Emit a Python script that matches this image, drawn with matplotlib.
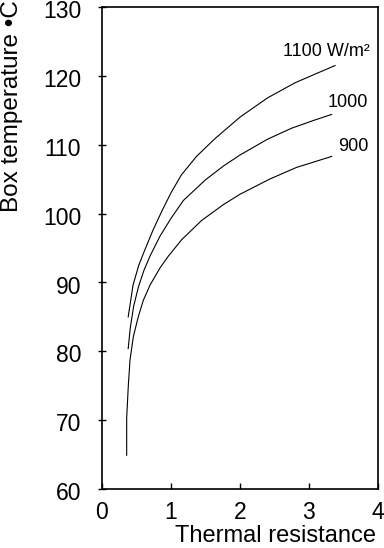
import numpy as np
import matplotlib
matplotlib.use('Agg')
import matplotlib.pyplot as plt
from matplotlib.transforms import ScaledTranslation

plt.rcParams['font.family'] = ['Liberation Sans', 'DejaVu Sans']

# thermal resistance / box temperature for three irradiance levels
r_900 = [0.358, 0.358, 0.381, 0.406, 0.454, 0.526, 0.599, 0.696, 0.841, 0.961,
         1.155, 1.445, 1.76, 2.0, 2.43, 2.82, 3.33]
t_900 = [64.9, 70.3, 74.9, 78.7, 82.1, 85.0, 87.4, 89.6, 92.1, 93.8,
         96.2, 99.0, 101.3, 102.8, 105.0, 106.7, 108.3]

r_1000 = [0.38, 0.41, 0.46, 0.53, 0.61, 0.70, 0.84, 1.0, 1.18, 1.5,
          1.76, 2.0, 2.4, 2.75, 3.06, 3.33]
t_1000 = [80.4, 83.4, 86.6, 89.4, 91.8, 93.9, 96.7, 99.3, 101.9, 104.9,
          106.9, 108.5, 110.8, 112.4, 113.5, 114.4]

r_1100 = [0.38, 0.45, 0.53, 0.62, 0.74, 0.87, 1.0, 1.15, 1.37, 1.64,
          2.0, 2.4, 2.8, 3.1, 3.38]
t_1100 = [85.0, 89.6, 92.4, 94.7, 97.6, 100.4, 103.0, 105.6, 108.3, 110.9,
          114.0, 116.8, 119.0, 120.3, 121.5]

labels = ['900', '1000', '1100 W/m²']

fig = plt.figure(figsize=(3.84, 5.48), dpi=100)
ax = fig.add_axes([0.2656, 0.1077, 0.7184, 0.8795])

for r, t in [(r_900, t_900), (r_1000, t_1000), (r_1100, t_1100)]:
    ax.plot(r, t, color='black', lw=0.8)

ax.text(3.86, 109.7, labels[0], ha='right', va='center', fontsize=13)
ax.text(3.86, 116.2, labels[1], ha='right', va='center', fontsize=13)
ax.text(2.62, 123.6, labels[2], ha='left', va='center', fontsize=13)

ax.set_xlim(0, 4)
ax.set_ylim(60, 130)
ax.set_xticks([0, 1, 2, 3, 4])
ax.set_yticks(np.arange(60, 131, 10))
ax.tick_params(axis='y', direction='inout', length=6, width=1, labelsize=16.5, pad=12)
ax.tick_params(axis='x', direction='in', length=4, width=1, labelsize=16.5, pad=9)
# labels sit a touch below their ticks in the original
shift = ScaledTranslation(0, -1.5 / 72, fig.dpi_scale_trans)
for lab in ax.get_yticklabels():
    lab.set_transform(lab.get_transform() + shift)
for s in ax.spines.values():
    s.set_linewidth(1.2)

ax.set_xlabel('Thermal resistance', fontsize=17)
ax.xaxis.set_label_coords(0.995, -0.075)
ax.xaxis.label.set_ha('right')
fig.text(0.031, 1.0, 'Box temperature •C', rotation=90, ha='center', va='top', fontsize=17.5)

plt.savefig('out.png', dpi=100)
